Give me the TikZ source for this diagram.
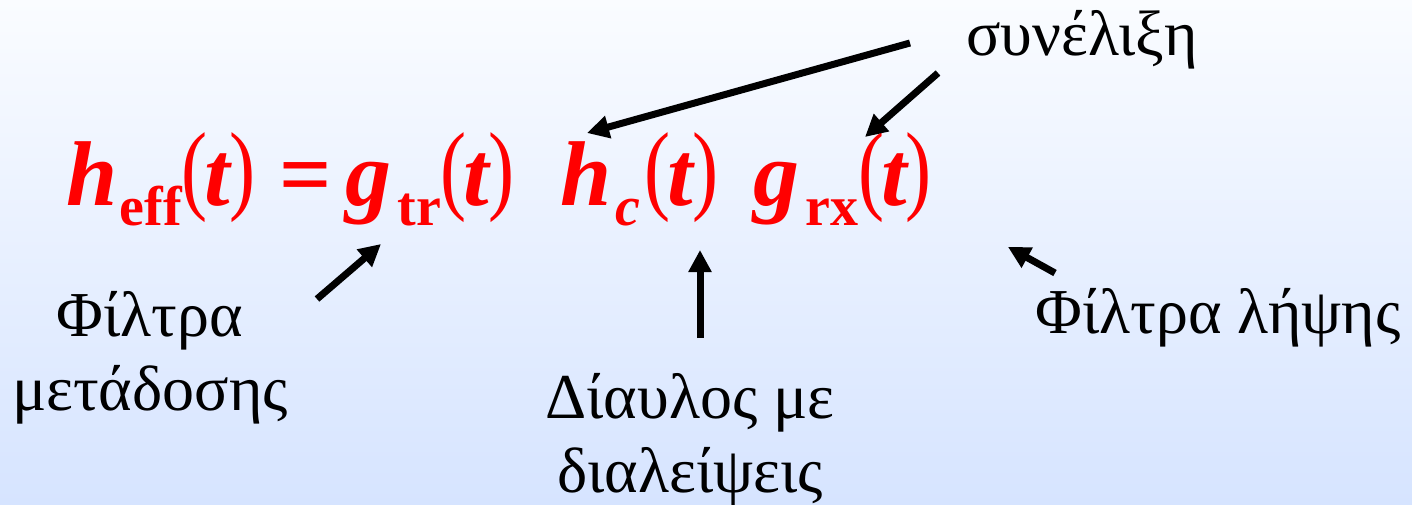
\documentclass[tikz,border=0pt]{standalone}
\usepackage{fontspec}
\setmainfont{Liberation Serif}
\usetikzlibrary{arrows.meta}
\definecolor{bgbot}{RGB}{214,228,255}
\definecolor{bgtop}{RGB}{250,252,255}
\newcommand\eqsub[1]{\raisebox{-10pt}{\fontsize{28}{32}\selectfont\bfseries\upshape #1}}
\newcommand\eqlp{\raisebox{2pt}{\scalebox{0.85}[1.08]{\mdseries\upshape(}}}
\newcommand\eqrp{\raisebox{2pt}{\scalebox{0.85}[1.08]{\mdseries\upshape)}}}
\newcommand\eqpar[1]{\eqlp\hspace{-1.5pt}\textit{#1}\hspace{-0.5pt}\eqrp}
\tikzset{
  eqpart/.style={anchor=base west, inner sep=0pt, text=red, font=\fontsize{46}{54}\selectfont\bfseries\itshape},
  lbl/.style={align=center, inner sep=0pt, font=\fontsize{32}{37}\selectfont},
  arr/.style={line width=3.5pt, -{Triangle[length=11pt,width=11pt]}}
}
\begin{document}
\begin{tikzpicture}[x=0.5pt,y=-0.5pt]
\useasboundingbox (0,0) rectangle (1412,504);
\shade[top color=bgtop, bottom color=bgbot] (0,0) rectangle (1412,504);
% equation
\node[eqpart] (heff) at (66,205) {h\hspace{1pt}\eqsub{eff}\eqpar{t}};
\node[eqpart] (eq) at (279,205) {\upshape=};
\node[eqpart] (gtr) at (345,205) {g\hspace{3pt}\eqsub{tr}\eqpar{t}};
\node[eqpart] (hc) at (560,205) {h\hspace{2pt}\raisebox{-10pt}{\fontsize{28}{32}\selectfont c}\hspace{2pt}\eqpar{t}};
\node[eqpart] (grx) at (753,205) {g\hspace{3pt}\eqsub{rx}\eqpar{t}};
% labels
\node[lbl] (conv) at (1082,40) {συνέλιξη};
\node[lbl] (tx) at (150,358) {Φίλτρα\\μετάδοσης};
\node[lbl] (ch) at (690,440) {Δίαυλος με\\διαλείψεις};
\node[lbl] (rx) at (1218,318) {Φίλτρα λήψης};
% arrow ends
\coordinate (a1s) at (910,43);  \coordinate (a1e) at (587,133);
\coordinate (a2s) at (938,73);  \coordinate (a2e) at (865,137);
\coordinate (a3s) at (317,299); \coordinate (a3e) at (381,244);
\coordinate (a4s) at (700,338); \coordinate (a4e) at (700,250);
\coordinate (a5s) at (1055,273);\coordinate (a5e) at (1008,247);
\draw[arr] (a1s) -- (a1e);
\draw[arr] (a2s) -- (a2e);
\draw[arr] (a3s) -- (a3e);
\draw[arr] (a4s) -- (a4e);
\draw[arr] (a5s) -- (a5e);
\end{tikzpicture}
\end{document}
